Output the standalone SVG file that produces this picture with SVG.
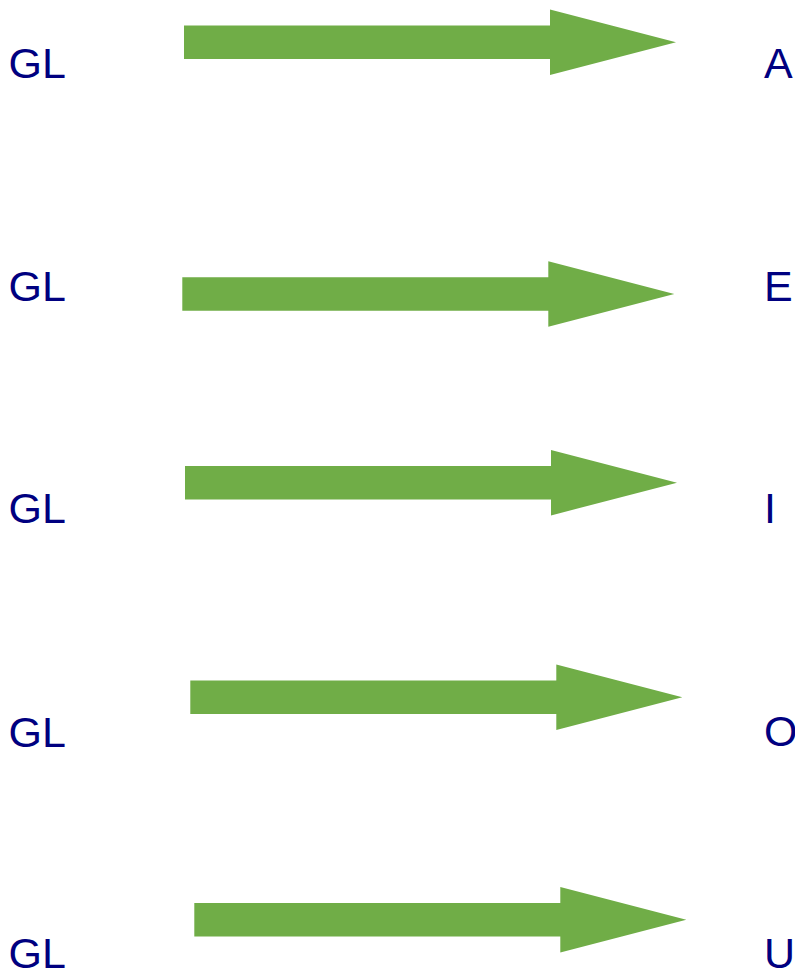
<svg xmlns="http://www.w3.org/2000/svg" width="795" height="973" viewBox="0 0 795 973">
<defs>
<style>
text{font-family:"Liberation Sans",Arial,sans-serif;font-size:43px;fill:#000080}
.arrow{fill:#70AD47}
</style>
<path id="arr" d="M0,-16.7 H366 V-32.7 L492,0 L366,32.7 V16.7 H0 Z"/>
</defs>
<rect width="795" height="973" fill="#ffffff"/>
<g id="nodes">
<g id="gl1"><text x="8.6" y="78">GL</text></g>
<g id="gl2"><text x="8.6" y="301">GL</text></g>
<g id="gl3"><text x="8.6" y="523">GL</text></g>
<g id="gl4"><text x="8.6" y="747">GL</text></g>
<g id="gl5"><text x="8.6" y="968">GL</text></g>
<g id="a"><text x="764" y="78">A</text></g>
<g id="e"><text x="764" y="301">E</text></g>
<g id="i"><text x="764" y="523">I</text></g>
<g id="o"><text x="764" y="746">O</text></g>
<g id="u"><text x="764" y="968">U</text></g>
</g>
<g id="connectors">
<use href="#arr" class="arrow" transform="translate(184,42.3)"/>
<use href="#arr" class="arrow" transform="translate(182.3,294)"/>
<use href="#arr" class="arrow" transform="translate(185,482.7)"/>
<use href="#arr" class="arrow" transform="translate(190.3,697.3)"/>
<use href="#arr" class="arrow" transform="translate(194.3,919.7)"/>
</g>
</svg>
